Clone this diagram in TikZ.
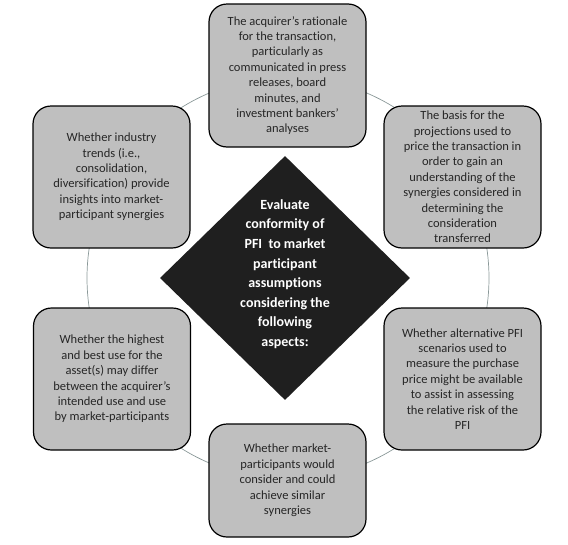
\documentclass[tikz,border=0pt]{standalone}
\usepackage{fontspec}
\setmainfont{Carlito}[Ligatures=NoCommon]
\usetikzlibrary{shapes.geometric}
\definecolor{boxfill}{HTML}{BFBFBF}
\definecolor{boxtext}{HTML}{262626}
\definecolor{dia}{HTML}{1F1F1F}
\definecolor{ring}{HTML}{8A9898}
\tikzset{
  infobox/.style={draw=black, line width=1.2pt, fill=boxfill, rounded corners=18pt,
    minimum width=157pt, inner sep=0pt, align=center, text=boxtext,
    font=\fontsize{12.5pt}{15.4pt}\selectfont},
  centerdia/.style={diamond, fill=dia, minimum width=250pt, minimum height=244pt, inner sep=0pt},
  centertext/.style={align=center, text=white, font=\fontsize{14pt}{19.6pt}\selectfont\bfseries},
  ringline/.style={draw=ring, line width=0.7pt}
}
\begin{document}
\begin{tikzpicture}[x=1pt,y=-1pt]
\useasboundingbox (0,0) rectangle (568,544);
\coordinate (ringc) at (288,278);
\draw[ringline] (ringc) circle (201pt);
\node[centerdia] (d) at (285,278) {};
\node[centertext] (dt) at (285,274) {Evaluate\\conformity of\\PFI\ \ to market\\participant\\assumptions\\considering the\\following\\aspects:};
\node[infobox, minimum height=143pt] (t) at (287.5,75.5) {The acquirer’s rationale\\for the transaction,\\particularly as\\communicated in press\\releases, board\\minutes, and\\investment bankers’\\analyses};
\node[infobox, minimum height=142pt] (ur) at (462.5,177) {The basis for the\\projections used to\\price the transaction in\\order to gain an\\understanding of the\\synergies considered in\\determining the\\consideration\\transferred};
\node[infobox, minimum height=142pt] (ul) at (111.5,177) {Whether industry\\trends (i.e.,\\consolidation,\\diversification) provide\\insights into market-\\participant synergies};
\node[infobox, minimum height=142pt] (ll) at (112,379) {Whether the highest\\and best use for the\\asset(s) may differ\\between the acquirer’s\\intended use and use\\by market-participants};
\node[infobox, minimum height=142pt] (lr) at (462.5,379) {Whether alternative PFI\\scenarios used to\\measure the purchase\\price might be available\\to assist in assessing\\the relative risk of the\\PFI};
\node[infobox, minimum height=113pt] (b) at (287.5,480.5) {Whether market-\\participants would\\consider and could\\achieve similar\\synergies};
\end{tikzpicture}
\end{document}
